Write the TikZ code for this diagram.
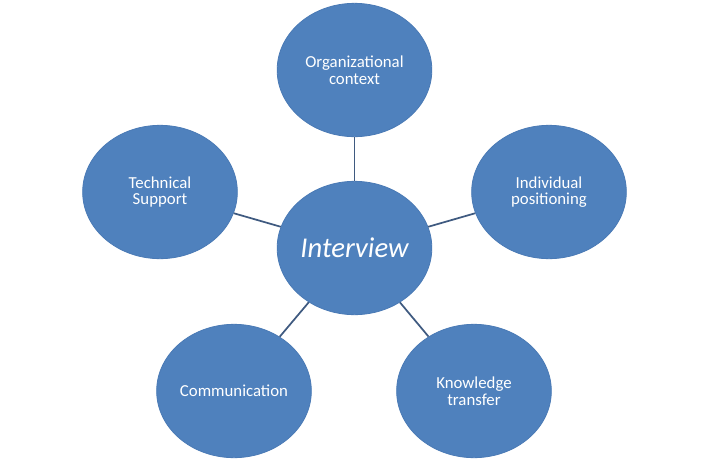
\documentclass[tikz,border=0pt]{standalone}
\usepackage{fontspec}
\setmainfont{Carlito}
\usetikzlibrary{shapes.geometric}
\definecolor{ballblue}{HTML}{4F81BD}
\definecolor{balledge}{HTML}{4A7AB5}
\definecolor{linkgray}{HTML}{3F5A80}

\begin{document}
\begin{tikzpicture}[x=0.75pt,y=-0.75pt,
  ball/.style={ellipse,fill=ballblue,draw=balledge,line width=0.6pt,
    minimum width=116pt,minimum height=100pt,inner sep=0pt,align=center,
    text=white,font=\fontsize{12.6}{12.4}\selectfont},
  hub/.style={ball,font=\fontsize{21.5}{24}\selectfont\itshape},
  l/.style={line width=1.3pt,linkgray}]
\useasboundingbox (0,0) rectangle (708,461);
\node[hub] (iv) at (354.5,248) {Interview};
\node[ball] (org) at (354.5,70) {Organizational\\context};
\node[ball] (tec) at (160,192) {Technical\\Support};
\node[ball] (ind) at (549,192) {Individual\\positioning};
\node[ball] (com) at (234,391) {Communication};
\node[ball] (kno) at (474,391) {Knowledge\\transfer};
\draw[l] (iv)--(org); \draw[l] (iv)--(tec); \draw[l] (iv)--(ind);
\draw[l] (iv)--(com); \draw[l] (iv)--(kno);
\end{tikzpicture}
\end{document}
